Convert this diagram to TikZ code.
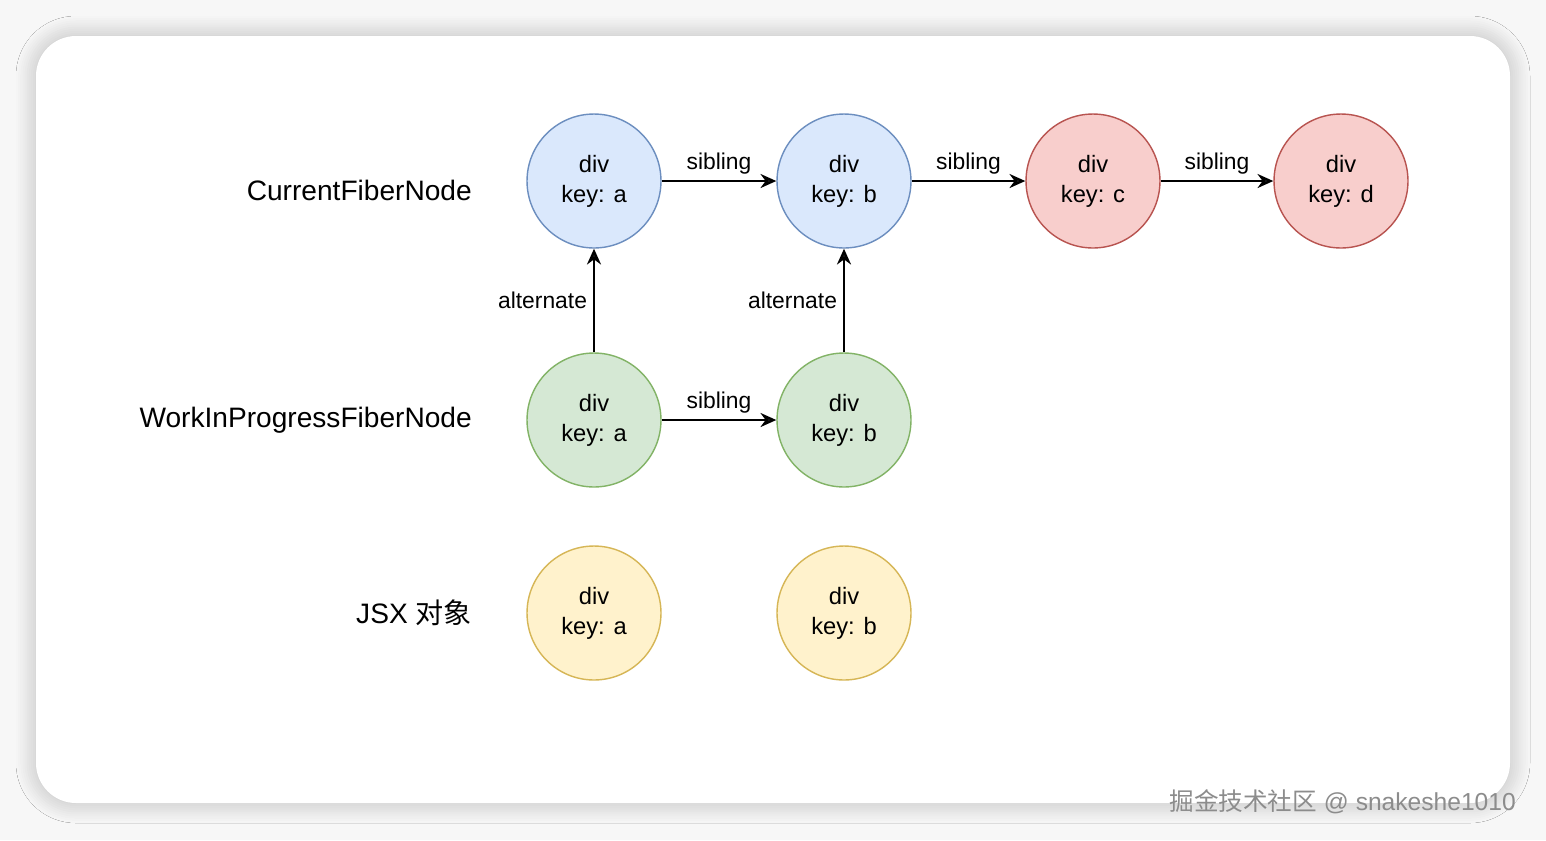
\documentclass[tikz,border=0pt]{standalone}
\usepackage{fontspec}
\setmainfont{Liberation Sans}
\newfontfamily\cjk{Noto Sans CJK SC}
\usetikzlibrary{arrows.meta,shadows.blur}
\definecolor{bluefill}{HTML}{DAE8FC}\definecolor{blueline}{HTML}{6C8EBF}
\definecolor{redfill}{HTML}{F8CECC}\definecolor{redline}{HTML}{B85450}
\definecolor{greenfill}{HTML}{D5E8D4}\definecolor{greenline}{HTML}{82B366}
\definecolor{yellowfill}{HTML}{FFF2CC}\definecolor{yellowline}{HTML}{D6B656}
\tikzset{
  fiber/.style={circle,draw,thick,minimum size=2.68cm,inner sep=0pt,align=center,
    font=\fontsize{13.5}{17}\selectfont},
  cur/.style={fiber,fill=bluefill,draw=blueline},
  old/.style={fiber,fill=redfill,draw=redline},
  wip/.style={fiber,fill=greenfill,draw=greenline},
  jsx/.style={fiber,fill=yellowfill,draw=yellowline},
  rowlabel/.style={anchor=east,font=\fontsize{16}{19}\selectfont},
  link/.style={line width=1.3pt,-{Stealth[length=9pt,width=8pt]}},
  tag/.style={font=\fontsize{13}{16}\selectfont}
}
\begin{document}
\begin{tikzpicture}[x=0.02cm,y=-0.02cm]
\useasboundingbox[fill=black!3] (0,0) rectangle (1546,840);
\fill[white,rounded corners=0.8cm,blur shadow={shadow blur steps=10,shadow xshift=0pt,shadow yshift=0pt,shadow blur radius=0.4cm,shadow opacity=25}] (36,36) rectangle (1510,803);
% fiber nodes
\node[cur] (ca) at (594,181) {div\\key: a};
\node[cur] (cb) at (844,181) {div\\key: b};
\node[old] (cc) at (1093,181) {div\\key: c};
\node[old] (cd) at (1341,181) {div\\key: d};
\node[wip] (wa) at (594,420) {div\\key: a};
\node[wip] (wb) at (844,420) {div\\key: b};
\node[jsx] (ja) at (594,613) {div\\key: a};
\node[jsx] (jb) at (844,613) {div\\key: b};
% row labels
\node[rowlabel] (lcur) at (478,190) {CurrentFiberNode};
\node[rowlabel] (lwip) at (478,420) {WorkInProgressFiberNode};
\node[rowlabel] (ljsx) at (478,613) {JSX {\cjk 对象}};
% links
\draw[link] (ca) -- node[tag,above] {sibling} (cb);
\draw[link] (cb) -- node[tag,above] {sibling} (cc);
\draw[link] (cc) -- node[tag,above] {sibling} (cd);
\draw[link] (wa) -- node[tag,above] {sibling} (wb);
\draw[link,{Stealth[length=9pt,width=8pt]}-] (ca) -- node[tag,left] {alternate} (wa);
\draw[link,{Stealth[length=9pt,width=8pt]}-] (cb) -- node[tag,left] {alternate} (wb);
\node[anchor=east,text=black!45,font=\fontsize{14}{16}\selectfont] (mark) at (1522,802) {{\cjk 掘金技术社区} @ snakeshe1010};
\end{tikzpicture}
\end{document}
